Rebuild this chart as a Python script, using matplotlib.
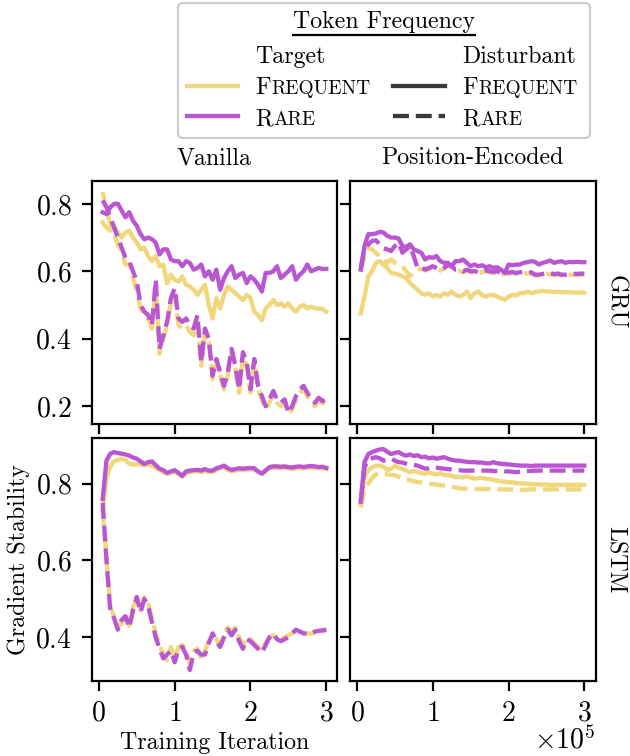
import matplotlib.pyplot as plt
import numpy as np
from matplotlib.lines import Line2D
from matplotlib.patches import FancyBboxPatch
from matplotlib.text import Annotation

plt.rcParams.update({
    'font.family': 'serif',
    'font.serif': ['cmr10'],
    'mathtext.fontset': 'cm',
    'axes.formatter.use_mathtext': True,
    'axes.unicode_minus': False,
    'font.size': 8.6,
    'axes.titlesize': 8.6,
    'axes.labelsize': 8.6,
    'xtick.labelsize': 10,
    'ytick.labelsize': 10,
})

# training iterations (every 5k steps)
iterations = np.arange(5000, 300001, 5000)

# naming: <model>_<variant>_<target><disturbant>, f = frequent, r = rare
gru_van_ff = [0.745, 0.73, 0.72, 0.735, 0.715, 0.70, 0.715, 0.72, 0.70, 0.685,
              0.665, 0.67, 0.645, 0.63, 0.645, 0.615, 0.62, 0.565, 0.59, 0.575,
              0.57, 0.585, 0.56, 0.555, 0.545, 0.53, 0.545, 0.56, 0.50, 0.46,
              0.52, 0.49, 0.53, 0.555, 0.545, 0.535, 0.525, 0.515, 0.53, 0.52,
              0.48, 0.47, 0.455, 0.49, 0.50, 0.515, 0.50, 0.505, 0.495, 0.505,
              0.49, 0.48, 0.495, 0.50, 0.49, 0.495, 0.49, 0.49, 0.488, 0.48]
gru_van_fr = [0.835, 0.78, 0.74, 0.71, 0.68, 0.66, 0.62, 0.62, 0.58, 0.54,
              0.49, 0.47, 0.46, 0.43, 0.56, 0.355, 0.40, 0.44, 0.51, 0.53,
              0.44, 0.43, 0.44, 0.42, 0.41, 0.45, 0.32, 0.42, 0.39, 0.28,
              0.33, 0.29, 0.25, 0.29, 0.36, 0.31, 0.24, 0.35, 0.32, 0.24,
              0.33, 0.25, 0.22, 0.19, 0.21, 0.235, 0.21, 0.20, 0.21, 0.18,
              0.19, 0.22, 0.24, 0.25, 0.23, 0.21, 0.20, 0.215, 0.21, 0.205]
gru_van_rf = [0.775, 0.77, 0.79, 0.80, 0.80, 0.78, 0.76, 0.775, 0.75, 0.735,
              0.71, 0.695, 0.70, 0.695, 0.685, 0.65, 0.665, 0.665, 0.635, 0.63,
              0.63, 0.615, 0.63, 0.625, 0.605, 0.61, 0.62, 0.585, 0.60, 0.575,
              0.605, 0.545, 0.58, 0.60, 0.615, 0.58, 0.59, 0.595, 0.565, 0.585,
              0.575, 0.56, 0.54, 0.595, 0.595, 0.60, 0.615, 0.58, 0.59, 0.60,
              0.615, 0.575, 0.59, 0.60, 0.62, 0.60, 0.605, 0.61, 0.607, 0.607]
gru_van_rr = [0.81, 0.79, 0.76, 0.73, 0.70, 0.67, 0.64, 0.63, 0.60, 0.57,
              0.50, 0.48, 0.47, 0.44, 0.575, 0.37, 0.41, 0.45, 0.52, 0.55,
              0.46, 0.45, 0.46, 0.44, 0.43, 0.47, 0.33, 0.43, 0.40, 0.29,
              0.34, 0.30, 0.26, 0.30, 0.37, 0.32, 0.25, 0.36, 0.33, 0.25,
              0.34, 0.26, 0.23, 0.20, 0.22, 0.245, 0.22, 0.21, 0.22, 0.18,
              0.20, 0.23, 0.25, 0.26, 0.24, 0.22, 0.21, 0.225, 0.215, 0.22]

gru_pe_ff = [0.475, 0.525, 0.585, 0.60, 0.625, 0.63, 0.62, 0.61, 0.595, 0.593,
             0.59, 0.585, 0.58, 0.565, 0.555, 0.545, 0.535, 0.53, 0.535, 0.525,
             0.53, 0.525, 0.535, 0.53, 0.54, 0.53, 0.525, 0.53, 0.54, 0.52,
             0.535, 0.54, 0.53, 0.525, 0.53, 0.53, 0.525, 0.52, 0.515, 0.525,
             0.53, 0.528, 0.535, 0.535, 0.54, 0.535, 0.538, 0.54, 0.542, 0.54,
             0.54, 0.538, 0.54, 0.538, 0.538, 0.538, 0.537, 0.537, 0.537, 0.537]
gru_pe_fr = [0.60, 0.645, 0.67, 0.665, 0.655, 0.645, 0.64, 0.625, 0.635, 0.625,
             0.62, 0.615, 0.60, 0.585, 0.60, 0.605, 0.608, 0.602, 0.607, 0.612,
             0.607, 0.602, 0.607, 0.617, 0.612, 0.602, 0.602, 0.597, 0.602, 0.597,
             0.597, 0.595, 0.597, 0.60, 0.597, 0.595, 0.597, 0.592, 0.592, 0.593,
             0.595, 0.592, 0.594, 0.595, 0.593, 0.594, 0.587, 0.587, 0.589, 0.592,
             0.591, 0.589, 0.59, 0.587, 0.587, 0.589, 0.59, 0.589, 0.59, 0.59]
gru_pe_rf = [0.605, 0.675, 0.71, 0.71, 0.712, 0.717, 0.715, 0.705, 0.70, 0.70,
             0.697, 0.675, 0.672, 0.68, 0.665, 0.66, 0.655, 0.635, 0.642, 0.64,
             0.645, 0.63, 0.625, 0.625, 0.615, 0.63, 0.63, 0.635, 0.625, 0.615,
             0.62, 0.615, 0.618, 0.612, 0.615, 0.61, 0.612, 0.605, 0.595, 0.62,
             0.618, 0.62, 0.62, 0.625, 0.627, 0.63, 0.628, 0.62, 0.625, 0.628,
             0.632, 0.625, 0.628, 0.63, 0.625, 0.628, 0.627, 0.628, 0.627, 0.627]
gru_pe_rr = [0.61, 0.665, 0.68, 0.69, 0.692, 0.68, 0.668, 0.665, 0.66, 0.675,
             0.685, 0.655, 0.665, 0.675, 0.645, 0.61, 0.612, 0.605, 0.61, 0.615,
             0.61, 0.605, 0.61, 0.62, 0.615, 0.605, 0.605, 0.60, 0.605, 0.60,
             0.60, 0.598, 0.60, 0.603, 0.60, 0.598, 0.60, 0.595, 0.595, 0.596,
             0.598, 0.595, 0.597, 0.598, 0.596, 0.597, 0.59, 0.59, 0.592, 0.595,
             0.594, 0.592, 0.593, 0.59, 0.59, 0.592, 0.593, 0.592, 0.593, 0.593]

lstm_van_ff = [0.73, 0.815, 0.845, 0.858, 0.862, 0.864, 0.862, 0.852, 0.85, 0.851,
               0.85, 0.848, 0.85, 0.847, 0.842, 0.835, 0.83, 0.825, 0.828, 0.83,
               0.825, 0.818, 0.828, 0.83, 0.832, 0.832, 0.83, 0.834, 0.83, 0.83,
               0.836, 0.84, 0.843, 0.836, 0.832, 0.834, 0.836, 0.835, 0.836, 0.837,
               0.836, 0.83, 0.825, 0.832, 0.84, 0.841, 0.841, 0.84, 0.841, 0.84,
               0.838, 0.84, 0.841, 0.84, 0.841, 0.842, 0.841, 0.84, 0.84, 0.838]
lstm_van_fr = [0.73, 0.61, 0.48, 0.455, 0.43, 0.435, 0.465, 0.43, 0.48, 0.495,
               0.47, 0.505, 0.49, 0.45, 0.41, 0.38, 0.355, 0.34, 0.375, 0.345,
               0.375, 0.38, 0.37, 0.33, 0.365, 0.37, 0.345, 0.365, 0.39, 0.405,
               0.395, 0.38, 0.405, 0.425, 0.415, 0.425, 0.40, 0.38, 0.40, 0.395,
               0.385, 0.375, 0.365, 0.385, 0.40, 0.405, 0.40, 0.395, 0.40, 0.405,
               0.41, 0.42, 0.415, 0.412, 0.41, 0.41, 0.412, 0.418, 0.416, 0.418]
lstm_van_rf = [0.76, 0.86, 0.878, 0.882, 0.88, 0.878, 0.876, 0.873, 0.868, 0.865,
               0.858, 0.851, 0.856, 0.858, 0.848, 0.839, 0.835, 0.828, 0.832, 0.835,
               0.828, 0.82, 0.832, 0.834, 0.835, 0.836, 0.834, 0.838, 0.834, 0.834,
               0.84, 0.843, 0.847, 0.84, 0.836, 0.838, 0.84, 0.839, 0.84, 0.841,
               0.84, 0.832, 0.826, 0.835, 0.843, 0.845, 0.845, 0.844, 0.845, 0.843,
               0.842, 0.844, 0.845, 0.843, 0.845, 0.846, 0.845, 0.843, 0.844, 0.841]
lstm_van_rr = [0.75, 0.60, 0.47, 0.45, 0.42, 0.445, 0.455, 0.425, 0.47, 0.505,
               0.465, 0.50, 0.48, 0.44, 0.40, 0.37, 0.345, 0.355, 0.365, 0.335,
               0.37, 0.375, 0.355, 0.315, 0.36, 0.365, 0.355, 0.355, 0.385, 0.41,
               0.39, 0.375, 0.40, 0.42, 0.405, 0.42, 0.39, 0.37, 0.395, 0.39,
               0.38, 0.37, 0.36, 0.38, 0.40, 0.41, 0.395, 0.39, 0.395, 0.40,
               0.41, 0.42, 0.415, 0.41, 0.41, 0.41, 0.415, 0.417, 0.418, 0.42]

lstm_pe_ff = [0.744, 0.817, 0.835, 0.842, 0.847, 0.847, 0.844, 0.836, 0.838, 0.846,
              0.842, 0.838, 0.834, 0.83, 0.833, 0.831, 0.827, 0.826, 0.829, 0.826,
              0.824, 0.827, 0.823, 0.822, 0.821, 0.817, 0.818, 0.816, 0.819, 0.816,
              0.813, 0.814, 0.815, 0.813, 0.812, 0.81, 0.808, 0.806, 0.805, 0.804,
              0.803, 0.802, 0.801, 0.80, 0.80, 0.799, 0.799, 0.798, 0.798, 0.798,
              0.797, 0.797, 0.797, 0.797, 0.797, 0.797, 0.797, 0.797, 0.797, 0.797]
lstm_pe_fr = [0.74, 0.783, 0.80, 0.815, 0.824, 0.826, 0.826, 0.824, 0.823, 0.822,
              0.818, 0.814, 0.811, 0.809, 0.806, 0.804, 0.803, 0.801, 0.80, 0.799,
              0.798, 0.796, 0.795, 0.793, 0.792, 0.79, 0.788, 0.787, 0.787, 0.787,
              0.786, 0.786, 0.786, 0.786, 0.786, 0.786, 0.786, 0.785, 0.785, 0.785,
              0.785, 0.784, 0.784, 0.784, 0.785, 0.785, 0.785, 0.785, 0.785, 0.785,
              0.785, 0.785, 0.785, 0.785, 0.785, 0.785, 0.785, 0.785, 0.785, 0.785]
lstm_pe_rf = [0.753, 0.856, 0.877, 0.882, 0.886, 0.889, 0.89, 0.883, 0.877, 0.88,
              0.882, 0.876, 0.873, 0.876, 0.872, 0.874, 0.869, 0.87, 0.866, 0.868,
              0.865, 0.867, 0.869, 0.865, 0.862, 0.86, 0.86, 0.858, 0.857, 0.856,
              0.856, 0.855, 0.855, 0.853, 0.853, 0.856, 0.853, 0.852, 0.851, 0.85,
              0.849, 0.848, 0.847, 0.847, 0.847, 0.846, 0.847, 0.847, 0.847, 0.847,
              0.847, 0.847, 0.847, 0.847, 0.847, 0.847, 0.847, 0.847, 0.847, 0.847]
lstm_pe_rr = [0.753, 0.843, 0.862, 0.866, 0.869, 0.866, 0.86, 0.862, 0.865, 0.86,
              0.856, 0.855, 0.852, 0.85, 0.849, 0.847, 0.843, 0.839, 0.84, 0.843,
              0.842, 0.84, 0.839, 0.838, 0.837, 0.836, 0.835, 0.834, 0.834, 0.834,
              0.834, 0.834, 0.834, 0.834, 0.834, 0.833, 0.833, 0.833, 0.832, 0.832,
              0.831, 0.83, 0.831, 0.832, 0.833, 0.833, 0.834, 0.834, 0.834, 0.834,
              0.834, 0.834, 0.834, 0.834, 0.834, 0.834, 0.834, 0.834, 0.834, 0.834]

col_titles = ['Vanilla', 'Position-Encoded']
row_titles = ['GRU', 'LSTM']
panels = [[(gru_van_ff, gru_van_fr, gru_van_rf, gru_van_rr),
           (gru_pe_ff, gru_pe_fr, gru_pe_rf, gru_pe_rr)],
          [(lstm_van_ff, lstm_van_fr, lstm_van_rf, lstm_van_rr),
           (lstm_pe_ff, lstm_pe_fr, lstm_pe_rf, lstm_pe_rr)]]

yellow = '#F0D77B'
purple = '#BA55D3'
dark = '#3a3a3a'
lw = 1.55

fig, axes = plt.subplots(2, 2, figsize=(3.15, 3.78), dpi=200, sharex=True, sharey='row')
fig.subplots_adjust(left=91.5 / 630, right=595.5 / 630, top=1 - 181 / 756,
                    bottom=1 - 681 / 756, wspace=0.049, hspace=0.058)

for r in range(2):
    for c in range(2):
        ax = axes[r, c]
        ff, fr, rf, rr = panels[r][c]
        ax.plot(iterations, ff, color=yellow, lw=lw, ls='-')
        ax.plot(iterations, fr, color=yellow, lw=lw, ls='--')
        ax.plot(iterations, rf, color=purple, lw=lw, ls='-')
        ax.plot(iterations, rr, color=purple, lw=lw, ls='--')
        ax.ticklabel_format(axis='x', style='sci', scilimits=(0, 0))
        ax.set_xticks([0, 100000, 200000, 300000])
        ax.xaxis.offsetText.set_visible(False)
    axes[r, 1].text(1.035, 0.5, row_titles[r], transform=axes[r, 1].transAxes,
                    rotation=270, va='center', ha='left')

axes[0, 0].set_yticks([0.2, 0.4, 0.6, 0.8])
axes[1, 0].set_yticks([0.4, 0.6, 0.8])
for c in range(2):
    axes[0, c].set_title(col_titles[c])
axes[1, 0].set_xlabel('Training Iteration', labelpad=2)
axes[1, 0].set_ylabel('Gradient Stability', labelpad=2)
# scale factor of the x axis, placed level with the x label
axes[1, 1].text(1.0, -0.277, r'$\times\mathdefault{10^{5}}$', transform=axes[1, 1].transAxes,
                ha='right', va='baseline', fontsize=10)

# legend drawn by hand (two-way key: colour = target, style = disturbant)
W, H = 630, 756


def fx(px):
    return px / W


def fy(py):
    return 1 - py / H


box = FancyBboxPatch((178 / 200, (H - 138) / 200), 412 / 200, 135 / 200,
                     boxstyle='round,pad=0,rounding_size=0.025',
                     transform=fig.dpi_scale_trans, fc='white', ec='0.8', lw=0.8)
fig.add_artist(box)
fig.text(fx(384), fy(28), 'Token Frequency', ha='center', va='baseline')
fig.add_artist(Line2D([fx(293), fx(475)], [fy(35), fy(35)], color='black', lw=0.8))
fig.text(fx(255), fy(63), 'Target', va='baseline')
fig.text(fx(462), fy(63), 'Disturbant', va='baseline')


def smallcaps(px, py, word):
    t = fig.text(fx(px), fy(py), word[0], va='baseline')
    fig.add_artist(Annotation(word[1:], xy=(1, 0), xycoords=t, xytext=(0.2, 0.3),
                              textcoords='offset points', fontsize=7.0,
                              va='bottom', ha='left'))


fig.add_artist(Line2D([fx(187), fx(238)], [fy(86), fy(86)], color=yellow, lw=lw))
fig.add_artist(Line2D([fx(187), fx(238)], [fy(116), fy(116)], color=purple, lw=lw))
fig.add_artist(Line2D([fx(393), fx(445)], [fy(86), fy(86)], color=dark, lw=lw))
fig.add_artist(Line2D([fx(393), fx(445)], [fy(116), fy(116)], color=dark, lw=lw, ls='--'))
smallcaps(255, 94.3, 'FREQUENT')
smallcaps(255, 125, 'RARE')
smallcaps(462, 94.3, 'FREQUENT')
smallcaps(462, 125, 'RARE')

fig.savefig('out.png', dpi=200)
